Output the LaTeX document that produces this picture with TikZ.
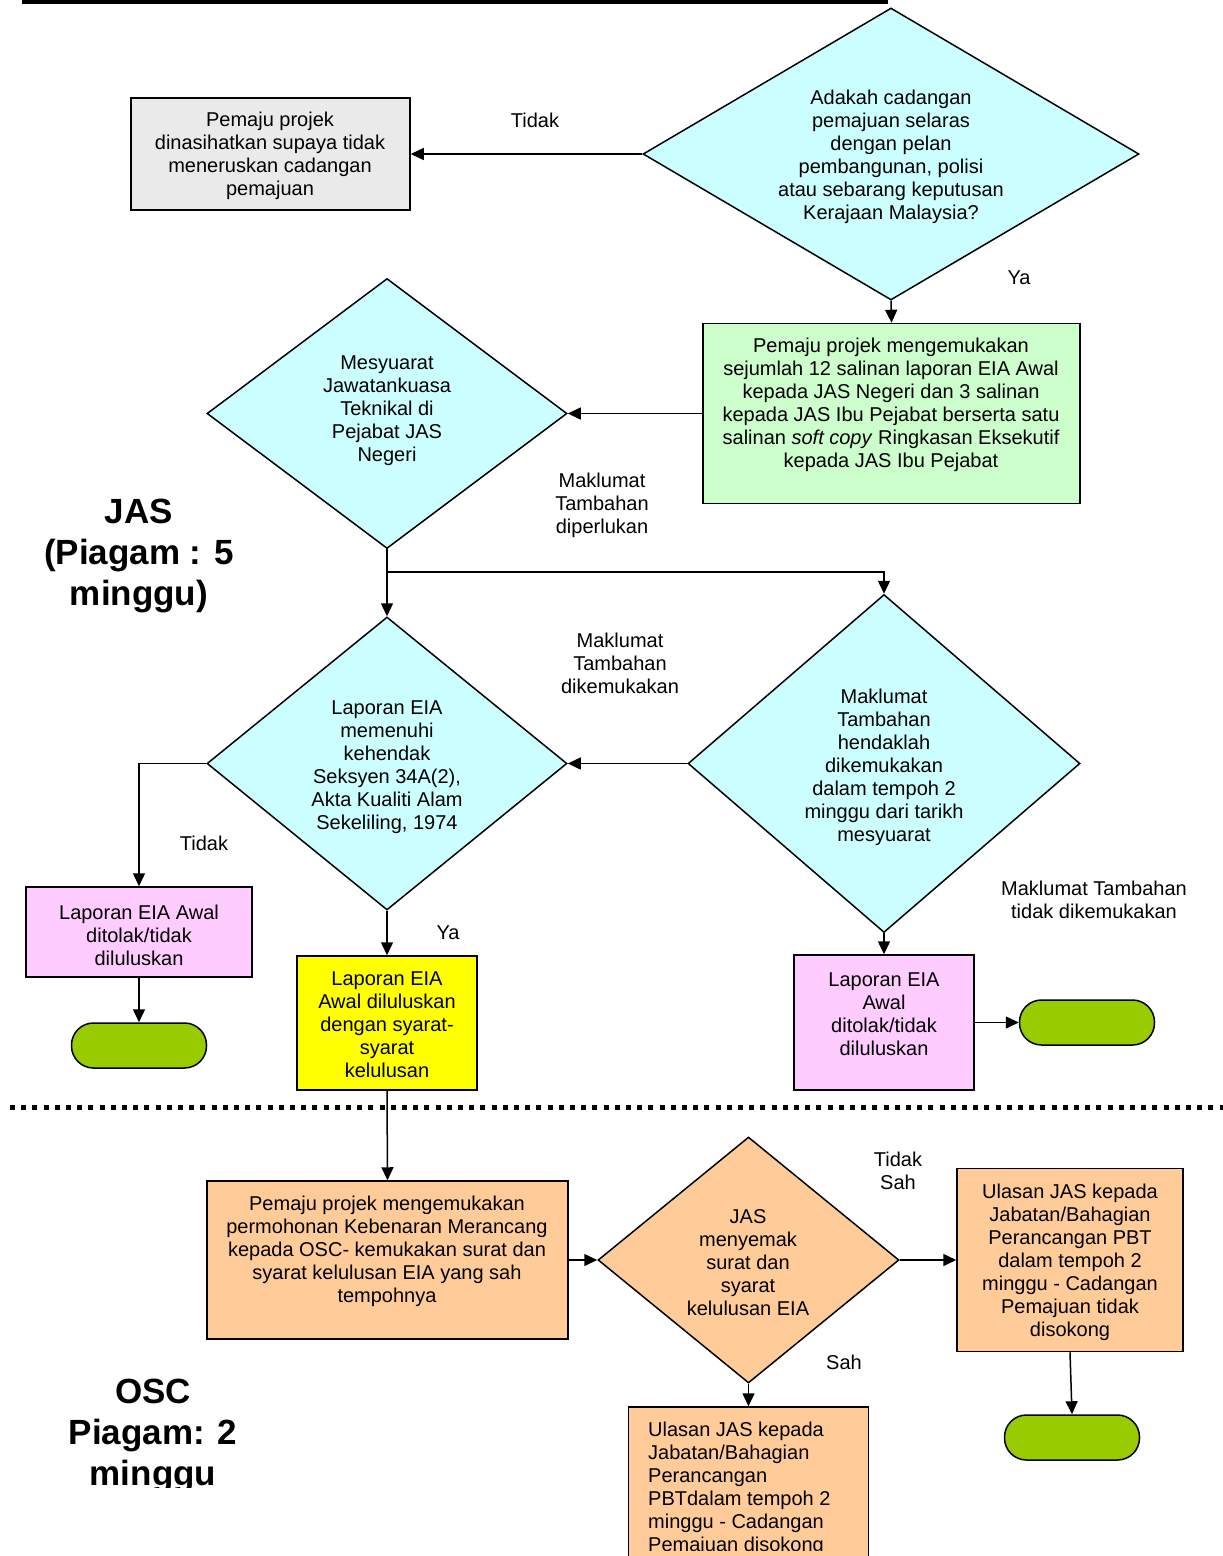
\documentclass[tikz,border=0pt]{standalone}
\usepackage{fontspec}
\setmainfont{Liberation Sans}
\usetikzlibrary{shapes.geometric,arrows.meta}
\definecolor{cyanfill}{HTML}{CCFFFF}
\definecolor{grayfill}{HTML}{EAEAEA}
\definecolor{greenfill}{HTML}{CCFFCC}
\definecolor{pinkfill}{HTML}{FFCCFF}
\definecolor{yellowfill}{HTML}{FFFF00}
\definecolor{orangefill}{HTML}{FFCC99}
\definecolor{termfill}{HTML}{99CC00}
\tikzset{
  shp/.style={draw=black, line width=1.5pt, inner sep=0pt},
  boxshape/.style={shp, rectangle},
  dia/.style={shp, diamond, fill=cyanfill},
  term/.style={shp, rectangle, rounded corners=22pt, fill=termfill, minimum width=135pt, minimum height=45pt},
  txt/.style={align=center, inner sep=0pt, yshift=-2pt, font=\fontsize{20}{23}\selectfont},
  bigtxt/.style={align=center, inner sep=0pt, yshift=-4pt, font=\fontsize{35}{41}\selectfont\bfseries},
  arr/.style={line width=1.5pt, -{Triangle[length=13pt,width=12pt]}},
  ln/.style={line width=1.5pt},
}
\begin{document}
\begin{tikzpicture}[x=1pt,y=-1pt]
\useasboundingbox (0,0) rectangle (1223,1556);
\clip (0,0) rectangle (1223,1556);
% top rule
\draw[line width=4pt] (22,1.5) -- (888,1.5);
% diamonds
\node[dia, minimum width=496pt, minimum height=292pt] (D1) at (891,154) {};
\node[dia, minimum width=360pt, minimum height=270pt] (D2) at (387,413.5) {};
\node[dia, minimum width=360pt, minimum height=293pt] (D3) at (387,763.5) {};
\node[dia, minimum width=392pt, minimum height=338pt] (D4) at (884,763.5) {};
\node[shp, diamond, fill=orangefill, minimum width=301pt, minimum height=246pt] (D5) at (748.5,1260) {};
% boxes
\node[boxshape, fill=grayfill, minimum width=279pt, minimum height=112pt] (B1) at (270.5,154) {};
\node[boxshape, fill=greenfill, minimum width=377pt, minimum height=180pt] (B2) at (891.5,413.5) {};
\node[boxshape, fill=pinkfill, minimum width=226pt, minimum height=90pt] (P1) at (139,932) {};
\node[boxshape, fill=yellowfill, minimum width=180pt, minimum height=134pt] (Y1) at (387,1023) {};
\node[boxshape, fill=pinkfill, minimum width=180pt, minimum height=135pt] (P2) at (884,1022.5) {};
\node[boxshape, fill=orangefill, minimum width=361pt, minimum height=158pt] (O1) at (387.5,1260) {};
\node[boxshape, fill=orangefill, minimum width=226pt, minimum height=183pt] (O2) at (1070,1260) {};
\node[boxshape, fill=orangefill, minimum width=240pt, minimum height=193pt] (O3) at (748.5,1503.5) {};
% terminals
\node[term] (T1) at (139,1045.5) {};
\node[term] (T2) at (1087,1022.5) {};
\node[term] (T3) at (1072,1437.5) {};
% texts in shapes
\node[txt] (D1t) at (891,155) {Adakah cadangan\\pemajuan selaras\\dengan pelan\\pembangunan, polisi\\atau sebarang keputusan\\Kerajaan Malaysia?};
\node[txt] (B1t) at (270,153.5) {Pemaju projek\\dinasihatkan supaya tidak\\meneruskan cadangan\\pemajuan};
\node[txt] (B2t) at (891,402.5) {Pemaju projek mengemukakan\\sejumlah 12 salinan laporan EIA Awal\\kepada JAS Negeri dan 3 salinan\\kepada JAS Ibu Pejabat berserta satu\\salinan \textit{soft copy} Ringkasan Eksekutif\\kepada JAS Ibu Pejabat};
\node[txt] (D2t) at (387,409) {Mesyuarat\\Jawatankuasa\\Teknikal di\\Pejabat JAS\\Negeri};
\node[txt] (D3t) at (387,765) {Laporan EIA\\memenuhi\\kehendak\\Seksyen 34A(2),\\Akta Kualiti Alam\\Sekeliling, 1974};
\node[txt] (D4t) at (884,765) {Maklumat\\Tambahan\\hendaklah\\dikemukakan\\dalam tempoh 2\\minggu dari tarikh\\mesyuarat};
\node[txt] (P1t) at (139,933) {Laporan EIA Awal\\ditolak/tidak\\diluluskan};
\node[txt] (Y1t) at (387,1023) {Laporan EIA\\Awal diluluskan\\dengan syarat-\\syarat\\kelulusan};
\node[txt] (P2t) at (884,1012) {Laporan EIA\\Awal\\ditolak/tidak\\diluluskan};
\node[txt] (O1t) at (387,1249) {Pemaju projek mengemukakan\\permohonan Kebenaran Merancang\\kepada OSC- kemukakan surat dan\\syarat kelulusan EIA yang sah\\tempohnya};
\node[txt] (D5t) at (748,1261) {JAS\\menyemak\\surat dan\\syarat\\kelulusan EIA};
\node[txt] (O2t) at (1070,1260) {Ulasan JAS kepada\\Jabatan/Bahagian\\Perancangan PBT\\dalam tempoh 2\\minggu - Cadangan\\Pemajuan tidak\\disokong};
\begin{scope}
\clip (630,1400) rectangle (866,1550);
\node[txt, align=left, anchor=west] (O3t) at (648,1486.5) {Ulasan JAS kepada\\Jabatan/Bahagian\\Perancangan\\PBTdalam tempoh 2\\minggu - Cadangan\\Pemajuan disokong};
\end{scope}
% labels
\node[txt] (L1) at (535,118) {Tidak};
\node[txt] (L2) at (1019,276) {Ya};
\node[txt] (L3) at (602,503) {Maklumat\\Tambahan\\diperlukan};
\node[txt] (L4) at (620,661) {Maklumat\\Tambahan\\dikemukakan};
\node[txt] (L5) at (204,841) {Tidak};
\node[txt] (L6) at (448,931) {Ya};
\node[txt] (L7) at (1094,897.5) {Maklumat Tambahan\\tidak dikemukakan};
\node[txt] (L8) at (898,1168.5) {Tidak\\Sah};
\node[txt] (L9) at (844,1360) {Sah};
\node[bigtxt] (JAS) at (139,552) {JAS\\(Piagam : 5\\minggu)};
\begin{scope}
\clip (0,1340) rectangle (400,1487);
\node[bigtxt] (OSC) at (153,1432) {OSC\\Piagam: 2\\minggu};
\end{scope}
% dotted separator
\draw[line width=5pt, dash pattern=on 5pt off 6.2pt] (10,1107.5) -- (1223,1107.5);
% connectors
\coordinate (j1) at (387,572);
\coordinate (j2) at (884,572);
\draw[arr] (D1.west) -- (B1.east);
\draw[arr] (D1.south) -- (B2.north);
\draw[arr] (B2.west) -- (D2.east);
\draw[ln] (D2.south) -- (j1);
\draw[arr] (j1) -- (D3.north);
\draw[arr] (j1) -- (j2) -- (D4.north);
\draw[arr] (D4.west) -- (D3.east);
\draw[arr] (D3.west) -| (P1.north);
\draw[arr] (P1.south) -- (T1.north);
\draw[arr] (D3.south) -- (Y1.north);
\draw[arr] (D4.south) -- (P2.north);
\draw[arr] (P2.east) -- (T2.west);
\draw[arr] (Y1.south) -- (O1.north);
\draw[arr] (O1.east) -- (D5.west);
\draw[arr] (D5.east) -- (O2.west);
\draw[arr] (O2.south) -- (T3.north);
\draw[arr] (D5.south) -- (O3.north);
\end{tikzpicture}
\end{document}
